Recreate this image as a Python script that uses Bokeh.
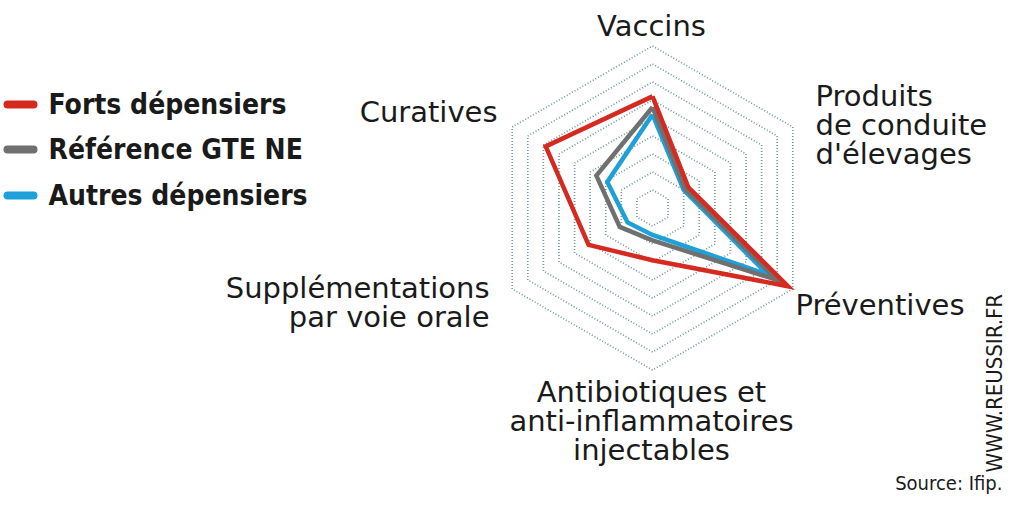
import numpy as np
from bokeh.plotting import figure
from bokeh.models import Range1d
from bokeh.core.properties import value
from bokeh.embed import file_html
from bokeh.resources import INLINE

# axes of the radar, clockwise from the top
categories = ["Vaccins", "Produits\nde conduite\nd'élevages", "Préventives",
              "Antibiotiques et\nanti-inflammatoires\ninjectables",
              "Supplémentations\npar voie orale", "Curatives"]
angles_deg = [90, 30, -30, -90, -150, 150]

series_names = ["Forts dépensiers", "Référence GTE NE", "Autres dépensiers"]
forts = [6.2, 2.3, 8.7, 2.9, 4.1, 6.85]
reference = [5.6, 2.1, 8.0, 1.8, 2.1, 3.6]
autres = [5.2, 2.0, 7.4, 1.5, 1.6, 2.9]
series_colors = ["#d42a1f", "#707070", "#1ea0d8"]

n_rings = 9
source_text = "Source: Ifip."
site_text = "WWW.REUSSIR.FR"

FONT = "DejaVu Sans"
CFONT = "DejaVu Sans Condensed"

# radar centre and pixels per unit
cx, cy = 652, 207.5
unit = 18.0

W, H = 1008, 495
p = figure(width=W, height=H, x_range=Range1d(0, W), y_range=Range1d(H, 0),
           x_axis_type=None, y_axis_type=None, toolbar_location=None,
           output_backend="svg", min_border=0, title=None)
p.grid.visible = False
p.outline_line_color = None
p.background_fill_color = "white"

ang = np.radians(angles_deg)


def to_xy(vals):
    r = np.asarray(vals, dtype=float) * unit
    return list(cx + r * np.cos(ang)), list(cy - r * np.sin(ang))


# dotted hexagon rings
for k in range(1, n_rings + 1):
    xs, ys = to_xy([k] * len(ang))
    p.line(xs + xs[:1], ys + ys[:1], line_color="#789aa0", line_width=1.7,
           line_dash="1 2")

# series, drawn back to front
for vals, col in zip([autres, reference, forts], series_colors[::-1]):
    xs, ys = to_xy(vals)
    p.line(xs + xs[:1], ys + ys[:1], line_color=col, line_width=4.5,
           line_join="miter")

# category labels: (x, middle of first line, align)
label_pos = [(651, 25, "center"), (815, 95, "left"), (795, 304, "left"),
             (651, 391, "center"), (489, 287, "right"), (497, 111, "right")]
for lab, (x, y, al) in zip(categories, label_pos):
    lines = lab.split("\n")
    ys = [y + i * 29 for i in range(len(lines))]
    p.text(x=[x] * len(lines), y=ys, text=lines, text_font=value(FONT),
           text_font_size="29px", text_color="#1a1a1a", text_align=al,
           text_baseline="middle")

# legend
leg_y = [104, 149, 195]
for name, col, y in zip(series_names, series_colors, leg_y):
    p.line([7, 33], [y, y], line_color=col, line_width=8, line_cap="round")
    p.text(x=[48], y=[y], text=[name], text_font=value(CFONT),
           text_font_style="bold", text_font_size="28px", text_color="#1a1a1a",
           text_align="left", text_baseline="middle")

# credits
p.text(x=[994], y=[472], text=[site_text], angle=np.pi / 2,
       text_font=value(CFONT), text_font_size="22px", text_color="#1a1a1a",
       text_align="left", text_baseline="middle")
p.text(x=[1002], y=[482], text=[source_text], text_font=value(CFONT),
       text_font_size="20px", text_color="#1a1a1a", text_align="right",
       text_baseline="middle")

open("out.html", "w").write(file_html(p, INLINE))
